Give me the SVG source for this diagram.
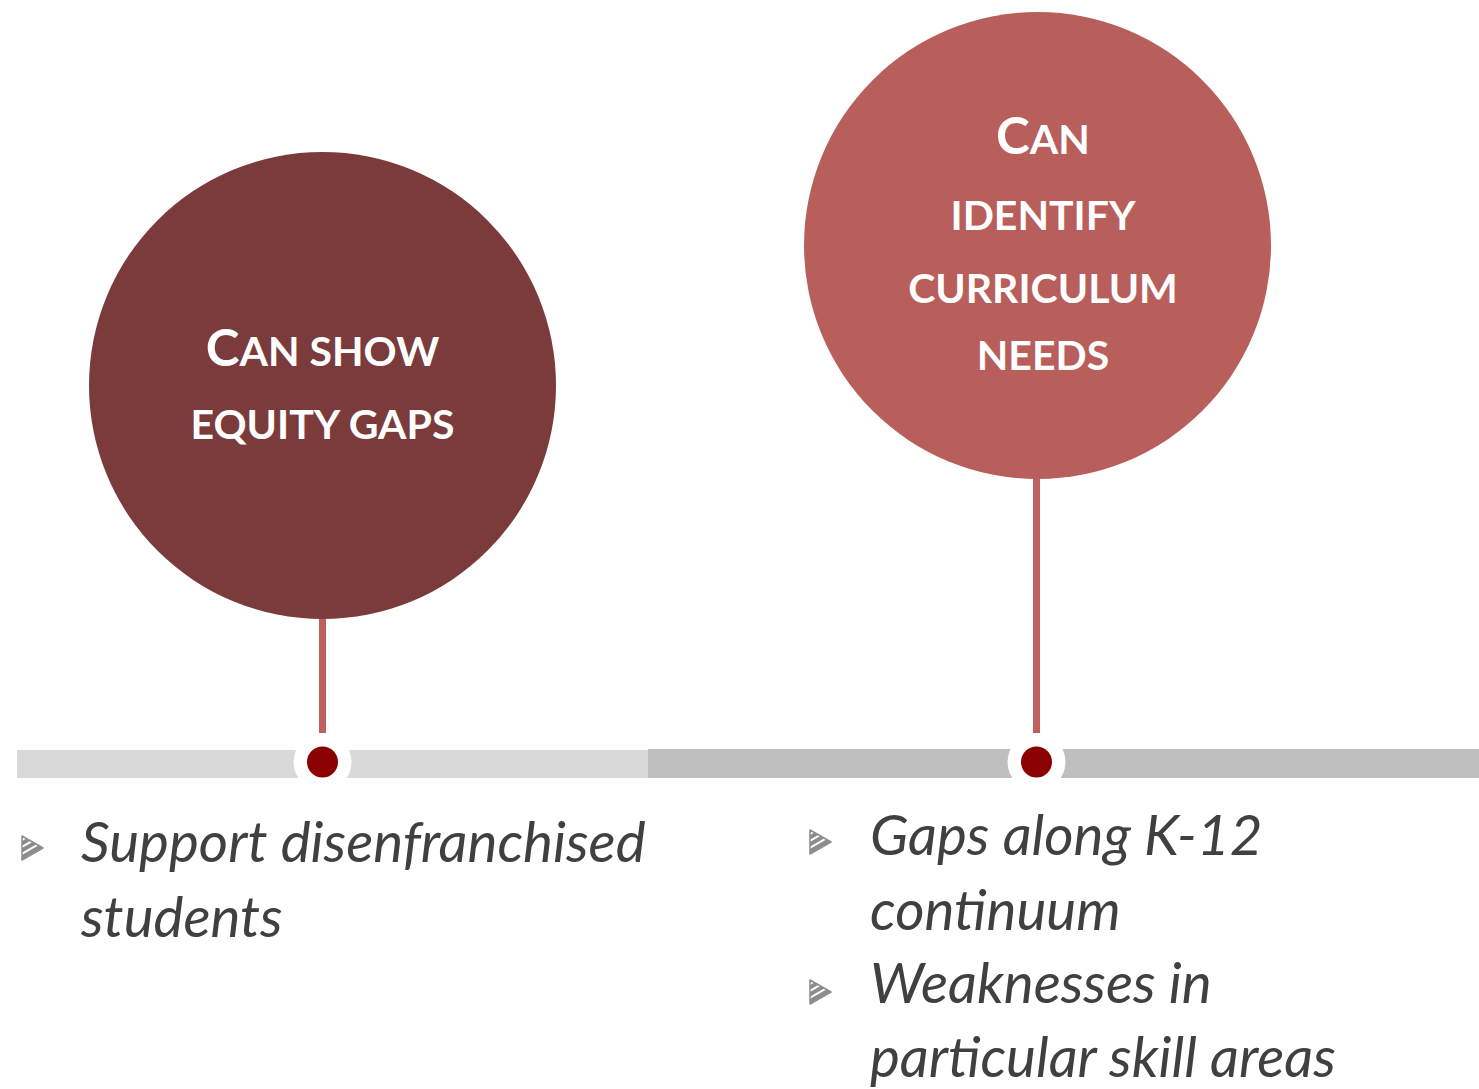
<svg xmlns="http://www.w3.org/2000/svg" width="1479" height="1089" viewBox="0 0 1479 1089">
<style>
.title{font-family:Lato,"Open Sans","Liberation Sans",sans-serif;font-weight:bold;fill:#FFFFFF;text-anchor:middle}
.big{font-size:51px}
.sm{font-size:41px}
.body{font-family:Lato,"Open Sans","Liberation Sans",sans-serif;font-style:italic;font-size:56.5px;fill:#404040}
.stem{stroke:#C0605E;stroke-width:7}
</style>
<defs>
<pattern id="stripes" patternUnits="userSpaceOnUse" width="6" height="6" patternTransform="rotate(-30)">
<rect width="6" height="6" fill="#8C8C8C"/>
<rect y="4" width="6" height="2" fill="#FFFFFF"/>
</pattern>
<g id="bullet"><polygon points="0,-12 21,0 0,12" fill="url(#stripes)" stroke="#8C8C8C" stroke-width="1.5" stroke-linejoin="round"/></g>
</defs>
<rect width="1479" height="1089" fill="#FFFFFF"/>
<g id="timeline">
<rect x="17" y="750" width="631" height="28" fill="#D9D9D9"/>
<rect x="648" y="749" width="831" height="29" fill="#BFBFBF"/>
</g>
<g id="connectors">
<line class="stem" x1="322.5" y1="615" x2="322.5" y2="733"/>
<line class="stem" x1="1036.5" y1="475" x2="1036.5" y2="733"/>
</g>
<g id="node1">
<circle cx="322.5" cy="385.5" r="233.5" fill="#7B3B3B"/>
<text class="title" x="322.5" y="366"><tspan class="big">C</tspan><tspan class="sm">AN SHOW</tspan></text>
<text class="title sm" x="322.5" y="439">EQUITY GAPS</text>
</g>
<g id="node2">
<circle cx="1037.5" cy="245.5" r="233.5" fill="#B85E5B"/>
<text class="title" x="1043" y="154"><tspan class="big">C</tspan><tspan class="sm">AN</tspan></text>
<text class="title sm" x="1043" y="230">IDENTIFY</text>
<text class="title sm" x="1043" y="303">CURRICULUM</text>
<text class="title sm" x="1043" y="370">NEEDS</text>
</g>
<g id="marker1">
<circle cx="322.5" cy="762" r="29" fill="#FFFFFF"/>
<circle cx="322.5" cy="762" r="15.5" fill="#8B0000"/>
</g>
<g id="marker2">
<circle cx="1036.5" cy="762" r="29" fill="#FFFFFF"/>
<circle cx="1036.5" cy="762" r="15.5" fill="#8B0000"/>
</g>
<g id="list1">
<use href="#bullet" x="22" y="848"/>
<text class="body" x="81" y="862">Support disenfranchised</text>
<text class="body" x="81" y="937">students</text>
</g>
<g id="list2">
<use href="#bullet" x="810" y="842"/>
<text class="body" x="870" y="855">Gaps along K-12</text>
<text class="body" x="870" y="930">continuum</text>
<use href="#bullet" x="810" y="992"/>
<text class="body" x="870" y="1003">Weaknesses in</text>
<text class="body" x="870" y="1077">particular skill areas</text>
</g>
</svg>
